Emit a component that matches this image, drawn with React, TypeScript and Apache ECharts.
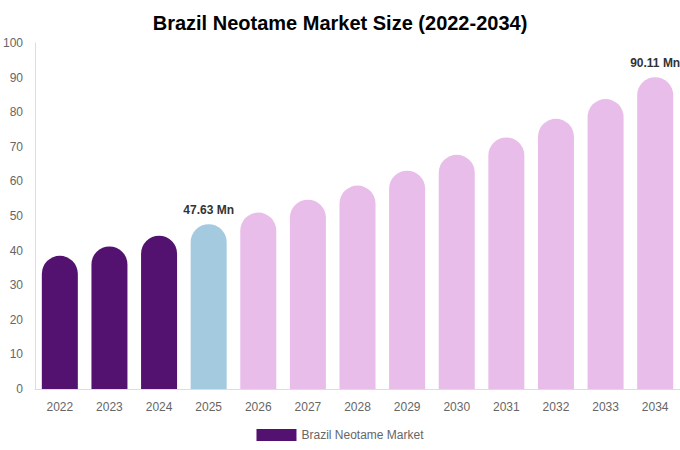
import { useEffect, useRef } from 'react';
import * as echarts from 'echarts';

const years = ['2022', '2023', '2024', '2025', '2026', '2027', '2028', '2029', '2030', '2031', '2032', '2033', '2034'];
const marketSize = [38.5, 41.2, 44.3, 47.63, 51.0, 54.7, 58.8, 63.1, 67.7, 72.7, 78.1, 83.8, 90.11];
const labelledYears = ['2025', '2034'];

const historyColor = '#541270';
const baseColor = '#a3cade';
const forecastColor = '#e8bde9';

function barColor(year: string) {
  const y = Number(year);
  if (y < 2025) return historyColor;
  if (y === 2025) return baseColor;
  return forecastColor;
}

export default function App() {
  const chartRef = useRef<HTMLDivElement>(null);

  useEffect(() => {
    if (!chartRef.current) return;
    document.body.style.margin = '0';
    const chart = echarts.init(chartRef.current, null, { renderer: 'svg' });

    const option: echarts.EChartsOption = {
      animation: false,
      backgroundColor: '#fff',
      title: {
        text: 'Brazil Neotame Market Size (2022-2034)',
        left: 'center',
        top: 8,
        textStyle: {
          fontFamily: 'Liberation Sans, Arial, sans-serif',
          fontSize: 20,
          fontWeight: 'bold',
          color: '#000',
        },
      },
      legend: {
        bottom: 4,
        left: 'center',
        itemWidth: 40,
        itemHeight: 12,
        icon: 'rect',
        textStyle: {
          fontFamily: 'Liberation Sans, Arial, sans-serif',
          fontSize: 12,
          color: '#666',
        },
        data: [{ name: 'Brazil Neotame Market', itemStyle: { color: historyColor } }],
      },
      grid: { left: 33, right: 0, top: 43, bottom: 61 },
      xAxis: {
        type: 'category',
        data: years,
        axisLine: { lineStyle: { color: '#ddd' } },
        axisTick: { show: false },
        axisLabel: {
          color: '#666',
          fontSize: 12,
          margin: 12,
          fontFamily: 'Liberation Sans, Arial, sans-serif',
        },
      },
      yAxis: {
        type: 'value',
        min: 0,
        max: 100,
        interval: 10,
        axisLine: { show: true, lineStyle: { color: '#ddd' } },
        axisTick: { show: false },
        splitLine: { show: false },
        axisLabel: {
          color: '#666',
          fontSize: 12,
          margin: 12,
          fontFamily: 'Liberation Sans, Arial, sans-serif',
        },
      },
      series: [
        {
          name: 'Brazil Neotame Market',
          type: 'bar',
          barWidth: 36,
          itemStyle: { color: historyColor },
          data: marketSize.map((v, i) => ({
            value: v,
            itemStyle: { color: barColor(years[i]), borderRadius: [18, 18, 0, 0] },
            label: {
              show: labelledYears.includes(years[i]),
              position: 'top',
              distance: 8,
              formatter: '{c} Mn',
              fontSize: 12,
              fontWeight: 'bold',
              color: '#333',
              fontFamily: 'Liberation Sans, Arial, sans-serif',
            },
          })),
        },
      ],
    };

    chart.setOption(option);
    return () => chart.dispose();
  }, []);

  return <div ref={chartRef} style={{ width: 680, height: 450 }} />;
}
